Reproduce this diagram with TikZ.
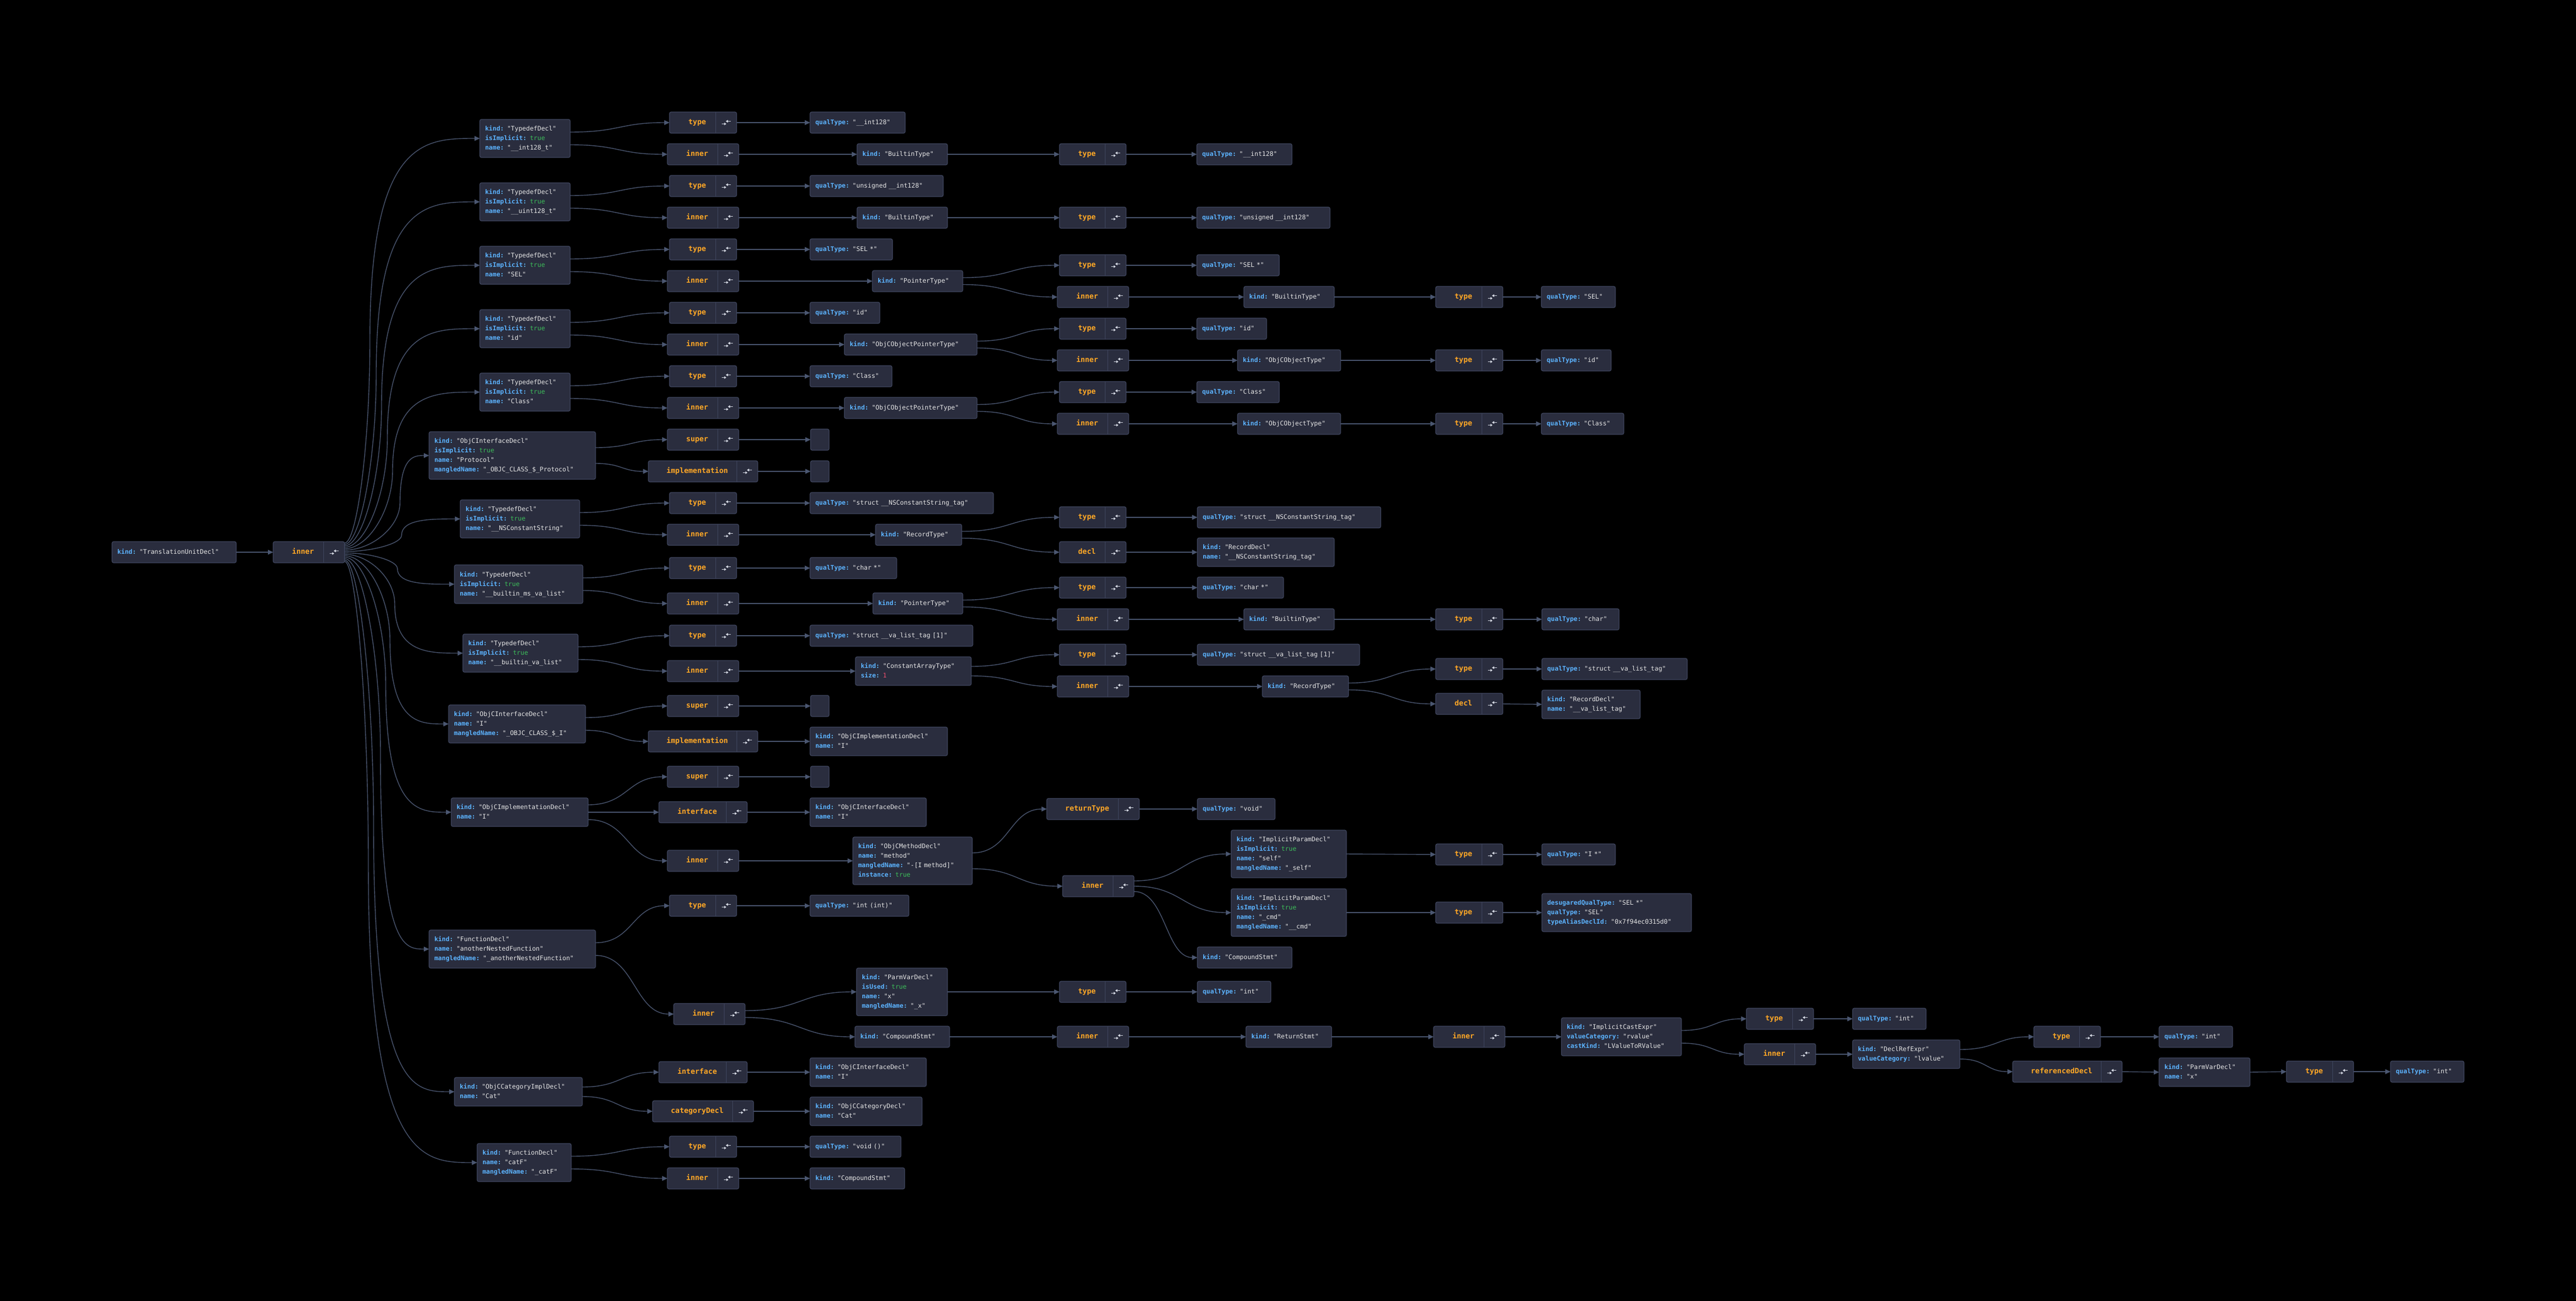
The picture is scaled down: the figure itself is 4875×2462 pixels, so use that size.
\documentclass[tikz,border=0pt]{standalone}
\usepackage{fontspec}
\newfontfamily\mono{DejaVu Sans Mono}
\usetikzlibrary{arrows.meta,calc}
\definecolor{boxfill}{HTML}{2A2D3E}
\definecolor{boxdraw}{HTML}{404760}
\definecolor{edgec}{HTML}{4A5670}
\definecolor{keyc}{HTML}{5CB3FF}
\definecolor{valc}{HTML}{E6E6E6}
\definecolor{truec}{HTML}{3DBE5A}
\definecolor{numc}{HTML}{F0506E}
\definecolor{lblc}{HTML}{FFA726}
\definecolor{iconc}{HTML}{D8DCE6}
\newcommand\Key[1]{\strut\textcolor{keyc}{\bfseries#1:} }
\newcommand\Tru{\textcolor{truec}{true}}
\newcommand\vnode[6]{%
  \pgfmathsetmacro\Vw{#4-#2}\pgfmathsetmacro\Vh{#5-#3}\pgfmathsetmacro\Vt{#4-#2-20}%
  \node[vbox,minimum width=\Vw pt,minimum height=\Vh pt,text width=\Vt pt,anchor=north west] (#1) at (#2,#3) {#6};}
\newcommand\lnode[6]{%
  \pgfmathsetmacro\Lw{#4-#2}\pgfmathsetmacro\Lh{#5-#3}%
  \pgfmathsetmacro\Lx{(#2+#4-40)/2+9}\pgfmathsetmacro\Ly{(#3+#5)/2}%
  \pgfmathsetmacro\Ld{#4-40}\pgfmathsetmacro\Li{#4-20}%
  \node[lbox,minimum width=\Lw pt,minimum height=\Lh pt,anchor=north west] (#1) at (#2,#3) {};
  \draw[divl] (\Ld,#3) -- (\Ld,#5);
  \node[ltext] at (\Lx,\Ly) {#6};
  \draw[icon] ({\Li-8.5},{\Ly+2.5}) -- ({\Li+0.5},{\Ly+2.5});
  \draw[icon] ({\Li+8.5},{\Ly-2.5}) -- ({\Li-0.5},{\Ly-2.5});}
\newcommand\Est[2]{\draw[edge] (#1.east) -- (#2.west);}
\newcommand\Esc[3]{\draw[edge] let \p1=($(#1.east)+(0,#2)$), \p2=(#3.west) in
  (\p1) .. controls ({0.5*\x1+0.5*\x2},\y1) and ({0.5*\x1+0.5*\x2},\y2) .. (\p2);}
\newcommand\Efan[3]{\draw[edge] let \p1=($(rinner.north east)+(0,#2)$), \p2=(#1.west), \p3=(#3,0) in
  (\p1) .. controls ({0.5*\x1+0.5*\x3},\y1) and (\x3,{0.75*\y1+0.25*\y2}) .. (\x3,{0.5*\y1+0.5*\y2})
  .. controls (\x3,\y2) and ({0.5*\x3+0.5*\x2},\y2) .. (\p2);}
\tikzset{
  vbox/.style={rectangle,rounded corners=3pt,draw=boxdraw,fill=boxfill,line width=1.2pt,inner xsep=10pt,inner ysep=0pt,outer sep=0pt,align=left,font=\mono\fontsize{11.9}{18}\selectfont,text=valc},
  lbox/.style={rectangle,rounded corners=3pt,draw=boxdraw,fill=boxfill,line width=1.2pt,inner sep=0pt,outer sep=0pt},
  ltext/.style={font=\mono\bfseries\fontsize{13.8}{16}\selectfont,text=lblc,inner sep=0pt,text height=9pt,text depth=1.5pt},
  divl/.style={draw=boxdraw,line width=1pt},
  icon/.style={draw=iconc,line width=1.2pt,-{Triangle[length=4pt,width=5pt]}},
  edge/.style={draw=edgec,line width=1.4pt,-{Triangle[length=10pt,width=9pt]}}
}
\begin{document}
\begin{tikzpicture}[x=1pt,y=-1pt]
\fill[black] (0,0) rectangle (4875,2462);
\useasboundingbox (0,0) rectangle (4875,2462);
% root
\vnode{tu}{212}{1025}{447}{1065}{\Key{kind}"TranslationUnitDecl"}
\lnode{rinner}{517}{1025}{652}{1065}{inner}
\Est{tu}{rinner}
% group 1
\vnode{P1}{908}{226}{1079}{298}{\Key{kind}"TypedefDecl"\\\Key{isImplicit}\Tru\\\Key{name}"\_\_int128\_t"}
\lnode{type1}{1267}{212}{1394}{252}{type}
\lnode{inner1}{1263}{272}{1398}{312}{inner}
\vnode{qt1}{1533}{212}{1713}{252}{\Key{qualType}"\_\_int128"}
\vnode{b1}{1622}{272}{1793}{312}{\Key{kind}"BuiltinType"}
\lnode{type1b}{2005}{272}{2131}{312}{type}
\vnode{qt1b}{2265}{272}{2445}{312}{\Key{qualType}"\_\_int128"}
% group 2
\vnode{P2}{908}{346}{1079}{418}{\Key{kind}"TypedefDecl"\\\Key{isImplicit}\Tru\\\Key{name}"\_\_uint128\_t"}
\lnode{type2}{1267}{332}{1394}{372}{type}
\lnode{inner2}{1263}{392}{1398}{432}{inner}
\vnode{qt2}{1533}{332}{1785}{372}{\Key{qualType}"unsigned \_\_int128"}
\vnode{b2}{1622}{392}{1793}{432}{\Key{kind}"BuiltinType"}
\lnode{type2b}{2005}{392}{2131}{432}{type}
\vnode{qt2b}{2265}{392}{2517}{432}{\Key{qualType}"unsigned \_\_int128"}
% group 3
\vnode{P3}{908}{466}{1079}{538}{\Key{kind}"TypedefDecl"\\\Key{isImplicit}\Tru\\\Key{name}"SEL"}
\lnode{type3}{1267}{452}{1394}{492}{type}
\lnode{inner3}{1263}{512}{1398}{552}{inner}
\vnode{qt3}{1533}{452}{1689}{492}{\Key{qualType}"SEL *"}
\vnode{ptr3}{1651}{512}{1822}{552}{\Key{kind}"PointerType"}
\lnode{type3b}{2005}{482}{2131}{522}{type}
\lnode{inner3b}{2001}{542}{2136}{582}{inner}
\vnode{qt3b}{2265}{482}{2421}{522}{\Key{qualType}"SEL *"}
\vnode{b3}{2354}{542}{2525}{582}{\Key{kind}"BuiltinType"}
\lnode{type3c}{2717}{542}{2844}{582}{type}
\vnode{qt3c}{2917}{542}{3057}{582}{\Key{qualType}"SEL"}
% group 4
\vnode{P4}{908}{586}{1079}{658}{\Key{kind}"TypedefDecl"\\\Key{isImplicit}\Tru\\\Key{name}"id"}
\lnode{type4}{1267}{572}{1394}{612}{type}
\lnode{inner4}{1263}{632}{1398}{672}{inner}
\vnode{qt4}{1533}{572}{1665}{612}{\Key{qualType}"id"}
\vnode{opt4}{1598}{632}{1849}{672}{\Key{kind}"ObjCObjectPointerType"}
\lnode{type4b}{2005}{602}{2131}{642}{type}
\lnode{inner4b}{2001}{662}{2136}{702}{inner}
\vnode{qt4b}{2265}{602}{2397}{642}{\Key{qualType}"id"}
\vnode{oo4}{2342}{662}{2537}{702}{\Key{kind}"ObjCObjectType"}
\lnode{type4c}{2717}{662}{2844}{702}{type}
\vnode{qt4c}{2917}{662}{3049}{702}{\Key{qualType}"id"}
% group 5
\vnode{P5}{908}{706}{1079}{778}{\Key{kind}"TypedefDecl"\\\Key{isImplicit}\Tru\\\Key{name}"Class"}
\lnode{type5}{1267}{692}{1394}{732}{type}
\lnode{inner5}{1263}{752}{1398}{792}{inner}
\vnode{qt5}{1533}{692}{1688}{732}{\Key{qualType}"Class"}
\vnode{opt5}{1598}{752}{1849}{792}{\Key{kind}"ObjCObjectPointerType"}
\lnode{type5b}{2005}{722}{2131}{762}{type}
\lnode{inner5b}{2001}{782}{2136}{822}{inner}
\vnode{qt5b}{2265}{722}{2421}{762}{\Key{qualType}"Class"}
\vnode{oo5}{2342}{782}{2537}{822}{\Key{kind}"ObjCObjectType"}
\lnode{type5c}{2717}{782}{2844}{822}{type}
\vnode{qt5c}{2917}{782}{3073}{822}{\Key{qualType}"Class"}
% group 6
\vnode{P6}{812}{817}{1127}{907}{\Key{kind}"ObjCInterfaceDecl"\\\Key{isImplicit}\Tru\\\Key{name}"Protocol"\\\Key{mangledName}"\_OBJC\_CLASS\_\$\_Protocol"}
\lnode{super6}{1263}{812}{1398}{852}{super}
\lnode{impl6}{1227}{872}{1434}{912}{implementation}
\vnode{e6a}{1534}{812}{1569}{852}{}
\vnode{e6b}{1534}{872}{1569}{912}{}
% group 7
\vnode{P7}{871}{946}{1097}{1018}{\Key{kind}"TypedefDecl"\\\Key{isImplicit}\Tru\\\Key{name}"\_\_NSConstantString"}
\lnode{type7}{1267}{932}{1394}{972}{type}
\lnode{inner7}{1263}{992}{1398}{1032}{inner}
\vnode{qt7}{1533}{932}{1880}{972}{\Key{qualType}"struct \_\_NSConstantString\_tag"}
\vnode{rec7}{1657}{992}{1820}{1032}{\Key{kind}"RecordType"}
\lnode{type7b}{2005}{959}{2131}{999}{type}
\lnode{decl7}{2005}{1025}{2131}{1065}{decl}
\vnode{qt7b}{2266}{959}{2613}{999}{\Key{qualType}"struct \_\_NSConstantString\_tag"}
\vnode{rd7}{2266}{1018}{2525}{1072}{\Key{kind}"RecordDecl"\\\Key{name}"\_\_NSConstantString\_tag"}
% group 8
\vnode{P8}{860}{1069}{1103}{1142}{\Key{kind}"TypedefDecl"\\\Key{isImplicit}\Tru\\\Key{name}"\_\_builtin\_ms\_va\_list"}
\lnode{type8}{1267}{1055}{1394}{1095}{type}
\lnode{inner8}{1263}{1122}{1398}{1162}{inner}
\vnode{qt8}{1533}{1055}{1697}{1095}{\Key{qualType}"char *"}
\vnode{ptr8}{1652}{1122}{1822}{1162}{\Key{kind}"PointerType"}
\lnode{type8b}{2005}{1092}{2131}{1132}{type}
\lnode{inner8b}{2001}{1152}{2136}{1192}{inner}
\vnode{qt8b}{2266}{1092}{2429}{1132}{\Key{qualType}"char *"}
\vnode{b8}{2354}{1152}{2525}{1192}{\Key{kind}"BuiltinType"}
\lnode{type8c}{2717}{1152}{2844}{1192}{type}
\vnode{qt8c}{2918}{1152}{3064}{1192}{\Key{qualType}"char"}
% group 9
\vnode{P9}{876}{1200}{1094}{1272}{\Key{kind}"TypedefDecl"\\\Key{isImplicit}\Tru\\\Key{name}"\_\_builtin\_va\_list"}
\lnode{type9}{1267}{1183}{1394}{1223}{type}
\lnode{inner9}{1263}{1250}{1398}{1290}{inner}
\vnode{qt9}{1533}{1183}{1841}{1223}{\Key{qualType}"struct \_\_va\_list\_tag [1]"}
\vnode{cat9}{1619}{1243}{1838}{1297}{\Key{kind}"ConstantArrayType"\\\Key{size}\textcolor{numc}{1}}
\lnode{type9b}{2005}{1219}{2131}{1259}{type}
\lnode{inner9b}{2001}{1279}{2136}{1319}{inner}
\vnode{qt9b}{2266}{1219}{2573}{1259}{\Key{qualType}"struct \_\_va\_list\_tag [1]"}
\vnode{rec9}{2389}{1279}{2552}{1319}{\Key{kind}"RecordType"}
\lnode{type9c}{2717}{1246}{2844}{1286}{type}
\lnode{decl9}{2717}{1312}{2844}{1352}{decl}
\vnode{qt9c}{2918}{1246}{3193}{1286}{\Key{qualType}"struct \_\_va\_list\_tag"}
\vnode{rd9}{2918}{1306}{3104}{1360}{\Key{kind}"RecordDecl"\\\Key{name}"\_\_va\_list\_tag"}
% group 10
\vnode{P10}{849}{1334}{1108}{1406}{\Key{kind}"ObjCInterfaceDecl"\\\Key{name}"I"\\\Key{mangledName}"\_OBJC\_CLASS\_\$\_I"}
\lnode{super10}{1263}{1316}{1398}{1356}{super}
\lnode{impl10}{1227}{1383}{1434}{1423}{implementation}
\vnode{e10}{1534}{1316}{1569}{1356}{}
\vnode{impd10}{1533}{1376}{1793}{1430}{\Key{kind}"ObjCImplementationDecl"\\\Key{name}"I"}
% group 11
\vnode{P11}{854}{1510}{1113}{1564}{\Key{kind}"ObjCImplementationDecl"\\\Key{name}"I"}
\lnode{super11}{1263}{1450}{1398}{1490}{super}
\lnode{iface11}{1247}{1517}{1414}{1557}{interface}
\lnode{inner11}{1263}{1609}{1398}{1649}{inner}
\vnode{e11}{1534}{1450}{1569}{1490}{}
\vnode{ifv11}{1533}{1510}{1753}{1564}{\Key{kind}"ObjCInterfaceDecl"\\\Key{name}"I"}
\vnode{meth11}{1614}{1584}{1840}{1674}{\Key{kind}"ObjCMethodDecl"\\\Key{name}"method"\\\Key{mangledName}"-[I method]"\\\Key{instance}\Tru}
\lnode{ret11}{1981}{1511}{2156}{1551}{returnType}
\vnode{void11}{2266}{1511}{2413}{1551}{\Key{qualType}"void"}
\lnode{inner11b}{2011}{1657}{2146}{1697}{inner}
\vnode{self11}{2330}{1571}{2548}{1661}{\Key{kind}"ImplicitParamDecl"\\\Key{isImplicit}\Tru\\\Key{name}"self"\\\Key{mangledName}"\_self"}
\vnode{cmd11}{2330}{1682}{2548}{1772}{\Key{kind}"ImplicitParamDecl"\\\Key{isImplicit}\Tru\\\Key{name}"\_cmd"\\\Key{mangledName}"\_\_cmd"}
\vnode{cs11}{2266}{1792}{2445}{1832}{\Key{kind}"CompoundStmt"}
\lnode{tself}{2717}{1597}{2844}{1637}{type}
\lnode{tcmd}{2717}{1707}{2844}{1747}{type}
\vnode{qself}{2918}{1597}{3057}{1637}{\Key{qualType}"I *"}
\vnode{qcmd}{2918}{1691}{3201}{1763}{\Key{desugaredQualType}"SEL *"\\\Key{qualType}"SEL"\\\Key{typeAliasDeclId}"0x7f94ec0315d0"}
% group 12
\vnode{P12}{812}{1760}{1127}{1832}{\Key{kind}"FunctionDecl"\\\Key{name}"anotherNestedFunction"\\\Key{mangledName}"\_anotherNestedFunction"}
\lnode{type12}{1267}{1694}{1394}{1734}{type}
\lnode{inner12}{1275}{1899}{1410}{1939}{inner}
\vnode{qt12}{1533}{1694}{1720}{1734}{\Key{qualType}"int (int)"}
\vnode{parm12}{1621}{1832}{1793}{1922}{\Key{kind}"ParmVarDecl"\\\Key{isUsed}\Tru\\\Key{name}"x"\\\Key{mangledName}"\_x"}
\vnode{cs12}{1618}{1942}{1797}{1982}{\Key{kind}"CompoundStmt"}
\lnode{type12b}{2005}{1857}{2131}{1897}{type}
\vnode{qt12b}{2266}{1857}{2405}{1897}{\Key{qualType}"int"}
\lnode{inner12b}{2001}{1942}{2136}{1982}{inner}
\vnode{ret12}{2358}{1942}{2520}{1982}{\Key{kind}"ReturnStmt"}
\lnode{inner12c}{2713}{1942}{2848}{1982}{inner}
\vnode{ice12}{2955}{1926}{3182}{1998}{\Key{kind}"ImplicitCastExpr"\\\Key{valueCategory}"rvalue"\\\Key{castKind}"LValueToRValue"}
\lnode{type12c}{3305}{1908}{3432}{1948}{type}
\lnode{inner12d}{3301}{1975}{3436}{2015}{inner}
\vnode{qt12c}{3506}{1908}{3645}{1948}{\Key{qualType}"int"}
\vnode{dre12}{3506}{1968}{3709}{2022}{\Key{kind}"DeclRefExpr"\\\Key{valueCategory}"lvalue"}
\lnode{type12d}{3849}{1942}{3975}{1982}{type}
\lnode{refd12}{3809}{2008}{4016}{2048}{referencedDecl}
\vnode{qt12d}{4086}{1942}{4225}{1982}{\Key{qualType}"int"}
\vnode{pvd12}{4086}{2002}{4258}{2056}{\Key{kind}"ParmVarDecl"\\\Key{name}"x"}
\lnode{type12e}{4327}{2008}{4454}{2048}{type}
\vnode{qt12e}{4524}{2008}{4663}{2048}{\Key{qualType}"int"}
% group 13
\vnode{P13}{860}{2039}{1102}{2093}{\Key{kind}"ObjCCategoryImplDecl"\\\Key{name}"Cat"}
\lnode{iface13}{1247}{2009}{1414}{2049}{interface}
\lnode{catd13}{1235}{2083}{1426}{2123}{categoryDecl}
\vnode{iv13}{1533}{2002}{1753}{2056}{\Key{kind}"ObjCInterfaceDecl"\\\Key{name}"I"}
\vnode{cd13}{1533}{2076}{1745}{2130}{\Key{kind}"ObjCCategoryDecl"\\\Key{name}"Cat"}
% group 14
\vnode{P14}{903}{2164}{1081}{2236}{\Key{kind}"FunctionDecl"\\\Key{name}"catF"\\\Key{mangledName}"\_catF"}
\lnode{type14}{1267}{2150}{1394}{2190}{type}
\lnode{inner14}{1263}{2210}{1398}{2250}{inner}
\vnode{qt14}{1533}{2150}{1705}{2190}{\Key{qualType}"void ()"}
\vnode{cs14}{1533}{2210}{1712}{2250}{\Key{kind}"CompoundStmt"}
% ---------- fan from root inner
\Efan{P1}{2.67}{700}
\Efan{P2}{5.33}{712}
\Efan{P3}{8}{722}
\Efan{P4}{10.67}{733}
\Efan{P5}{13.33}{743}
\Efan{P6}{16}{757}
\Efan{P7}{18.67}{760}
\Efan{P8}{21.33}{752}
\Efan{P9}{24}{747}
\Efan{P10}{26.67}{738}
\Efan{P11}{29.33}{730}
\Efan{P12}{32}{720}
\Efan{P13}{34.67}{707}
\Efan{P14}{37.33}{697}
% ---------- group edges
\Esc{P1}{-12}{type1}\Esc{P1}{12}{inner1}\Est{type1}{qt1}\Est{inner1}{b1}\Est{b1}{type1b}\Est{type1b}{qt1b}
\Esc{P2}{-12}{type2}\Esc{P2}{12}{inner2}\Est{type2}{qt2}\Est{inner2}{b2}\Est{b2}{type2b}\Est{type2b}{qt2b}
\Esc{P3}{-12}{type3}\Esc{P3}{12}{inner3}\Est{type3}{qt3}\Est{inner3}{ptr3}
\Esc{ptr3}{-6.5}{type3b}\Esc{ptr3}{6.5}{inner3b}\Est{type3b}{qt3b}\Est{inner3b}{b3}\Est{b3}{type3c}\Est{type3c}{qt3c}
\Esc{P4}{-12}{type4}\Esc{P4}{12}{inner4}\Est{type4}{qt4}\Est{inner4}{opt4}
\Esc{opt4}{-6.5}{type4b}\Esc{opt4}{6.5}{inner4b}\Est{type4b}{qt4b}\Est{inner4b}{oo4}\Est{oo4}{type4c}\Est{type4c}{qt4c}
\Esc{P5}{-12}{type5}\Esc{P5}{12}{inner5}\Est{type5}{qt5}\Est{inner5}{opt5}
\Esc{opt5}{-6.5}{type5b}\Esc{opt5}{6.5}{inner5b}\Est{type5b}{qt5b}\Est{inner5b}{oo5}\Est{oo5}{type5c}\Est{type5c}{qt5c}
\Esc{P6}{-15}{super6}\Esc{P6}{15}{impl6}\Est{super6}{e6a}\Est{impl6}{e6b}
\Esc{P7}{-12}{type7}\Esc{P7}{12}{inner7}\Est{type7}{qt7}\Est{inner7}{rec7}
\Esc{rec7}{-6.5}{type7b}\Esc{rec7}{6.5}{decl7}\Est{type7b}{qt7b}\Est{decl7}{rd7}
\Esc{P8}{-12}{type8}\Esc{P8}{12}{inner8}\Est{type8}{qt8}\Est{inner8}{ptr8}
\Esc{ptr8}{-6.5}{type8b}\Esc{ptr8}{6.5}{inner8b}\Est{type8b}{qt8b}\Est{inner8b}{b8}\Est{b8}{type8c}\Est{type8c}{qt8c}
\Esc{P9}{-12}{type9}\Esc{P9}{12}{inner9}\Est{type9}{qt9}\Est{inner9}{cat9}
\Esc{cat9}{-9}{type9b}\Esc{cat9}{9}{inner9b}\Est{type9b}{qt9b}\Est{inner9b}{rec9}
\Esc{rec9}{-6.5}{type9c}\Esc{rec9}{6.5}{decl9}\Est{type9c}{qt9c}\Est{decl9}{rd9}
\Esc{P10}{-12}{super10}\Esc{P10}{12}{impl10}\Est{super10}{e10}\Est{impl10}{impd10}
\Esc{P11}{-14}{super11}\Est{P11}{iface11}\Esc{P11}{14}{inner11}\Est{super11}{e11}\Est{iface11}{ifv11}\Est{inner11}{meth11}
\Esc{meth11}{-15}{ret11}\Esc{meth11}{15}{inner11b}\Est{ret11}{void11}
\Esc{inner11b}{-10}{self11}\Esc{inner11b}{0}{cmd11}\Esc{inner11b}{10}{cs11}
\Est{self11}{tself}\Est{cmd11}{tcmd}\Est{tself}{qself}\Est{tcmd}{qcmd}
\Esc{P12}{-12}{type12}\Esc{P12}{12}{inner12}\Est{type12}{qt12}
\Esc{inner12}{-6.5}{parm12}\Esc{inner12}{6.5}{cs12}
\Est{parm12}{type12b}\Est{type12b}{qt12b}\Est{cs12}{inner12b}\Est{inner12b}{ret12}\Est{ret12}{inner12c}\Est{inner12c}{ice12}
\Esc{ice12}{-12}{type12c}\Esc{ice12}{12}{inner12d}\Est{type12c}{qt12c}\Est{inner12d}{dre12}
\Esc{dre12}{-9}{type12d}\Esc{dre12}{9}{refd12}\Est{type12d}{qt12d}\Est{refd12}{pvd12}\Est{pvd12}{type12e}\Est{type12e}{qt12e}
\Esc{P13}{-9}{iface13}\Esc{P13}{9}{catd13}\Est{iface13}{iv13}\Est{catd13}{cd13}
\Esc{P14}{-12}{type14}\Esc{P14}{12}{inner14}\Est{type14}{qt14}\Est{inner14}{cs14}
\end{tikzpicture}
\end{document}
